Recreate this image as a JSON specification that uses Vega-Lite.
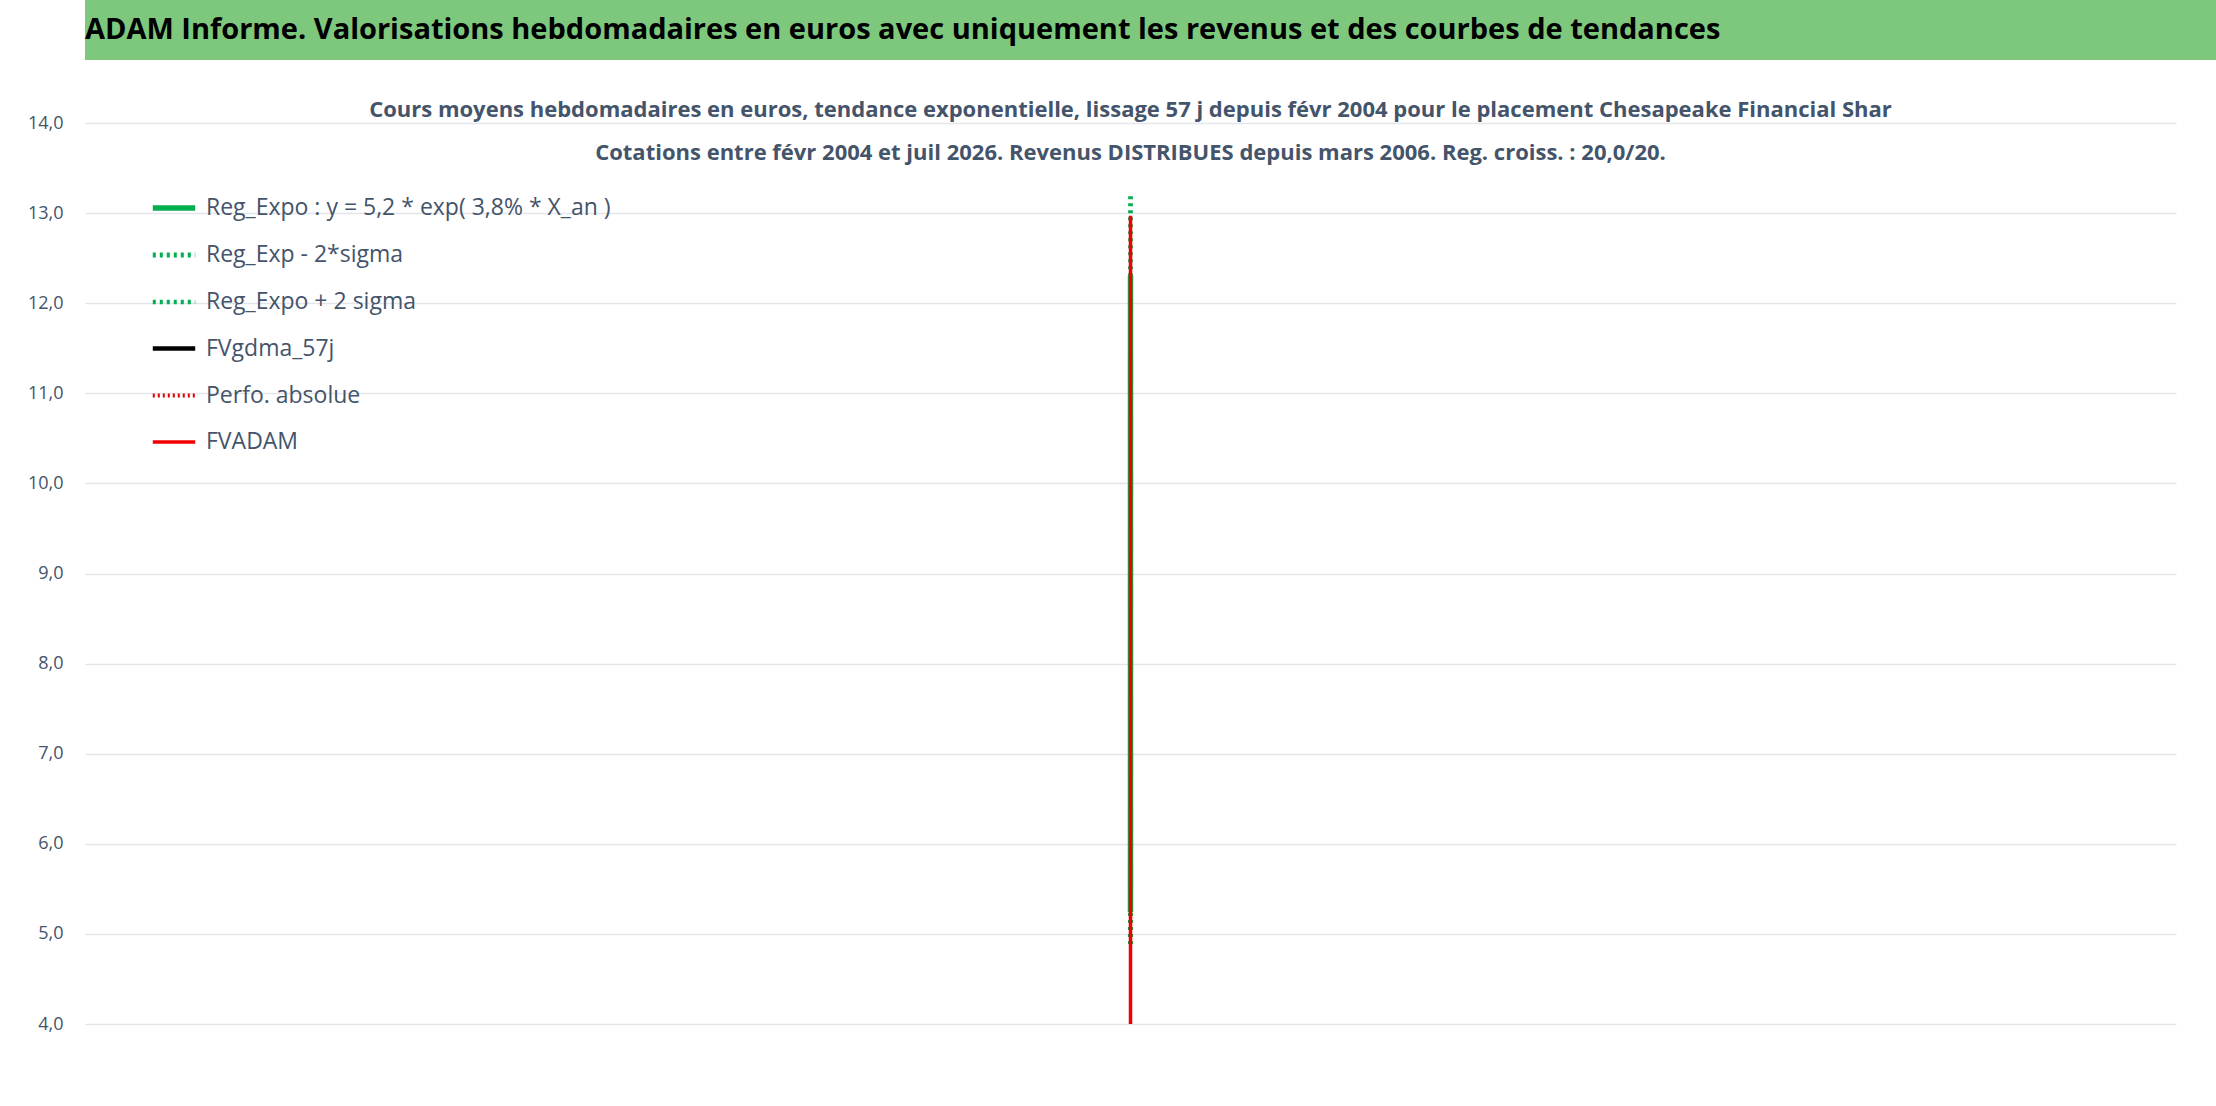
{
"$schema":"https://vega.github.io/schema/vega-lite/v6.json",
"padding":0,"spacing":39,"background":"white",
"config":{"view":{"stroke":null},"font":"Open Sans"},
"datasets":{
  "trend":[
{"x":2004.14,"reg":5.24,"up":5.617,"lo":4.889},{"x":2005.14,"reg":5.441,"up":5.833,"lo":5.076},{"x":2006.14,"reg":5.65,"up":6.057,"lo":5.271},{"x":2007.14,"reg":5.867,"up":6.289,"lo":5.474},{"x":2008.14,"reg":6.093,"up":6.532,"lo":5.685},{"x":2009.14,"reg":6.327,"up":6.783,"lo":5.903},{"x":2010.14,"reg":6.57,"up":7.043,"lo":6.13},{"x":2011.14,"reg":6.822,"up":7.313,"lo":6.365},{"x":2012.14,"reg":7.084,"up":7.594,"lo":6.609},{"x":2013.14,"reg":7.357,"up":7.887,"lo":6.864},{"x":2014.14,"reg":7.639,"up":8.189,"lo":7.127},{"x":2015.14,"reg":7.933,"up":8.504,"lo":7.402},{"x":2016.14,"reg":8.237,"up":8.83,"lo":7.685},{"x":2017.14,"reg":8.554,"up":9.17,"lo":7.981},{"x":2018.14,"reg":8.882,"up":9.521,"lo":8.287},{"x":2019.14,"reg":9.224,"up":9.888,"lo":8.606},{"x":2020.14,"reg":9.578,"up":10.268,"lo":8.936},{"x":2021.14,"reg":9.946,"up":10.662,"lo":9.279},{"x":2022.14,"reg":10.328,"up":11.072,"lo":9.636},{"x":2023.14,"reg":10.725,"up":11.497,"lo":10.006},{"x":2024.14,"reg":11.137,"up":11.939,"lo":10.391},{"x":2025.14,"reg":11.565,"up":12.398,"lo":10.79},{"x":2026.14,"reg":12.009,"up":12.874,"lo":11.204},{"x":2026.79,"reg":12.308,"up":13.194,"lo":11.483}],
  "adam":[
{"o":0,"x":2004.14,"y":4.0},{"o":1,"x":2004.14,"y":5.83},{"o":2,"x":2006.5,"y":5.85},{"o":3,"x":2006.75,"y":5.87},{"o":4,"x":2007.0,"y":5.9},{"o":5,"x":2007.25,"y":5.94},{"o":6,"x":2007.5,"y":5.98},{"o":7,"x":2007.75,"y":6.01},{"o":8,"x":2008.0,"y":6.05},{"o":9,"x":2008.25,"y":6.09},{"o":10,"x":2008.5,"y":6.13},{"o":11,"x":2008.75,"y":6.18},{"o":12,"x":2009.0,"y":6.22},{"o":13,"x":2009.25,"y":6.27},{"o":14,"x":2009.5,"y":6.32},{"o":15,"x":2009.75,"y":6.37},{"o":16,"x":2010.0,"y":6.42},{"o":17,"x":2010.25,"y":6.47},{"o":18,"x":2010.5,"y":6.52},{"o":19,"x":2010.75,"y":6.57},{"o":20,"x":2011.0,"y":6.62},{"o":21,"x":2011.25,"y":6.67},{"o":22,"x":2011.5,"y":6.72},{"o":23,"x":2011.75,"y":6.77},{"o":24,"x":2012.0,"y":6.82},{"o":25,"x":2012.25,"y":6.88},{"o":26,"x":2012.5,"y":6.94},{"o":27,"x":2012.75,"y":7.0},{"o":28,"x":2013.0,"y":7.07},{"o":29,"x":2013.25,"y":7.13},{"o":30,"x":2013.5,"y":7.2},{"o":31,"x":2013.75,"y":7.26},{"o":32,"x":2014.0,"y":7.33},{"o":33,"x":2014.25,"y":7.4},{"o":34,"x":2014.5,"y":7.47},{"o":35,"x":2014.75,"y":7.55},{"o":36,"x":2015.0,"y":7.62},{"o":37,"x":2015.25,"y":7.69},{"o":38,"x":2015.5,"y":7.77},{"o":39,"x":2015.75,"y":7.84},{"o":40,"x":2016.0,"y":7.92},{"o":41,"x":2016.25,"y":8.01},{"o":42,"x":2016.5,"y":8.09},{"o":43,"x":2016.75,"y":8.18},{"o":44,"x":2017.0,"y":8.27},{"o":45,"x":2017.25,"y":8.36},{"o":46,"x":2017.5,"y":8.46},{"o":47,"x":2017.75,"y":8.55},{"o":48,"x":2018.0,"y":8.65},{"o":49,"x":2018.25,"y":8.74},{"o":50,"x":2018.5,"y":8.84},{"o":51,"x":2018.75,"y":8.93},{"o":52,"x":2019.0,"y":9.03},{"o":53,"x":2019.25,"y":9.13},{"o":54,"x":2019.5,"y":9.24},{"o":55,"x":2019.75,"y":9.34},{"o":56,"x":2020.0,"y":9.45},{"o":57,"x":2020.25,"y":9.57},{"o":58,"x":2020.5,"y":9.7},{"o":59,"x":2020.75,"y":9.82},{"o":60,"x":2021.0,"y":9.95},{"o":61,"x":2021.25,"y":10.07},{"o":62,"x":2021.5,"y":10.2},{"o":63,"x":2021.75,"y":10.32},{"o":64,"x":2022.0,"y":10.45},{"o":65,"x":2022.25,"y":10.58},{"o":66,"x":2022.5,"y":10.71},{"o":67,"x":2022.75,"y":10.84},{"o":68,"x":2023.0,"y":10.97},{"o":69,"x":2023.25,"y":11.11},{"o":70,"x":2023.5,"y":11.26},{"o":71,"x":2023.75,"y":11.4},{"o":72,"x":2024.0,"y":11.55},{"o":73,"x":2024.25,"y":11.7},{"o":74,"x":2024.5,"y":11.85},{"o":75,"x":2024.75,"y":12.0},{"o":76,"x":2025.0,"y":12.15},{"o":77,"x":2025.25,"y":12.27},{"o":78,"x":2025.5,"y":12.4},{"o":79,"x":2025.75,"y":12.52},{"o":80,"x":2026.0,"y":12.65},{"o":81,"x":2026.25,"y":12.75},{"o":82,"x":2026.5,"y":12.86},{"o":83,"x":2026.75,"y":12.97},{"o":84,"x":2026.79,"y":12.97}]
},
"vconcat":[
{"width":2131,"height":60,"view":{"fill":"#7dc87d","stroke":null},
 "data":{"values":[{"t":"ADAM Informe. Valorisations hebdomadaires en euros avec uniquement les revenus et des courbes de tendances"}]},
 "mark":{"type":"text","align":"left","baseline":"middle","x":0,"y":30,"fontSize":29,"fontWeight":"bold","font":"Open Sans","color":"black"},
 "encoding":{"text":{"field":"t"}}},
{"width":2091,"height":901,
 "title":{"text":["Cours moyens hebdomadaires en euros, tendance exponentielle, lissage 57 j depuis févr 2004 pour le placement Chesapeake Financial Shar","Cotations entre févr 2004 et juil 2026. Revenus DISTRIBUES depuis mars 2006. Reg. croiss. : 20,0/20."],"fontSize":22,"fontWeight":"bold","color":"#44546a","lineHeight":43,"offset":-51,"anchor":"middle"},
 "encoding":{
  "x":{"type":"quantitative","scale":{"domain":[1996.96,2027.13],"nice":false,"zero":false},
   "axis":{"title":null,"values":[1997.98,1998.98,1999.98,2000.98,2001.98,2002.98,2003.98,2004.98,2005.98,2006.98,2007.98,2008.98,2009.98,2010.98,2011.98,2012.98,2013.98,2014.98,2015.98,2016.98,2017.98,2018.98,2019.98,2020.98,2021.98,2022.98,2023.98,2024.98,2025.98],
    "labelExpr":"datum.value==2004.98?'2004W52':datum.value==2006.98?'2006W51':datum.value==2008.98?'2008W51':datum.value==2010.98?'2010W50':datum.value==2012.98?'2012W50':datum.value==2014.98?'2014W50':datum.value==2016.98?'2016W49':datum.value==2018.98?'2018W49':datum.value==2020.98?'2020W49':datum.value==2022.98?'2022W48':datum.value==2024.98?'2024W48':''",
    "labelFontSize":18,"labelColor":"#44546a","labelPadding":18,"grid":true,"gridColor":"#e3e5ea","gridWidth":1.5,"domainColor":"#d9d9d9","domainWidth":2,"tickColor":"#d9d9d9","tickSize":12,"labelFlush":false}}
 },
 "layer":[
  {"data":{"name":"trend"},"transform":[{"calculate":"'Reg_Expo + 2 sigma'","as":"s"}],"mark":{"type":"line","clip":true},"encoding":{"y":{"field":"up","type":"quantitative"},"color":{"field":"s","type":"nominal"},"strokeDash":{"field":"s","type":"nominal"},"strokeWidth":{"field":"s","type":"nominal"}}},
  {"data":{"name":"trend"},"transform":[{"calculate":"'Reg_Exp - 2*sigma'","as":"s"}],"mark":{"type":"line","clip":true},"encoding":{"y":{"field":"lo","type":"quantitative"},"color":{"field":"s","type":"nominal"},"strokeDash":{"field":"s","type":"nominal"},"strokeWidth":{"field":"s","type":"nominal"}}},
  {"data":{"name":"trend"},"transform":[{"calculate":"'Reg_Expo : y = 5,2 * exp( 3,8% *  X_an )'","as":"s"}],"mark":{"type":"line","clip":true},"encoding":{"y":{"field":"reg","type":"quantitative"},"color":{"field":"s","type":"nominal"},"strokeDash":{"field":"s","type":"nominal"},"strokeWidth":{"field":"s","type":"nominal"}}},
  {"data":{"name":"adam"},"transform":[{"calculate":"'FVADAM'","as":"s"}],"mark":{"type":"line","interpolate":"step-after","clip":true},"encoding":{"order":{"field":"o","type":"quantitative"},
   "y":{"field":"y","type":"quantitative","scale":{"domain":[4,14],"nice":false,"zero":false},
     "axis":{"title":null,"values":[4,5,6,7,8,9,10,11,12,13,14],"labelExpr":"replace(format(datum.value,'.1f'),'.',',')","labelFontSize":18,"labelColor":"#44546a","grid":true,"gridColor":"#e3e5ea","gridWidth":1.5,"domain":false,"ticks":false,"labelPadding":22,"minExtent":85,"maxExtent":85}},
   "color":{"field":"s","type":"nominal","scale":{"domain":["Reg_Expo : y = 5,2 * exp( 3,8% *  X_an )","Reg_Exp - 2*sigma","Reg_Expo + 2 sigma","FVgdma_57j","Perfo. absolue","FVADAM"],"range":["#00b050","#00b050","#00b050","#000000","#e00000","#f00000"]},
     "legend":{"title":null,"orient":"none","legendX":65,"legendY":184,"symbolType":"stroke","symbolSize":1800,"labelFontSize":23,"labelColor":"#44546a","rowPadding":11,"labelOffset":8,"labelLimit":900}},
   "strokeDash":{"field":"s","type":"nominal","scale":{"domain":["Reg_Expo : y = 5,2 * exp( 3,8% *  X_an )","Reg_Exp - 2*sigma","Reg_Expo + 2 sigma","FVgdma_57j","Perfo. absolue","FVADAM"],"range":[[1,0],[3,4],[3,4],[1,0],[2,3],[1,0]]}},
   "strokeWidth":{"field":"s","type":"nominal","scale":{"domain":["Reg_Expo : y = 5,2 * exp( 3,8% *  X_an )","Reg_Exp - 2*sigma","Reg_Expo + 2 sigma","FVgdma_57j","Perfo. absolue","FVADAM"],"range":[5.5,3.5,3.5,3.5,2.5,4.5]}}}}
 ]}
]}
